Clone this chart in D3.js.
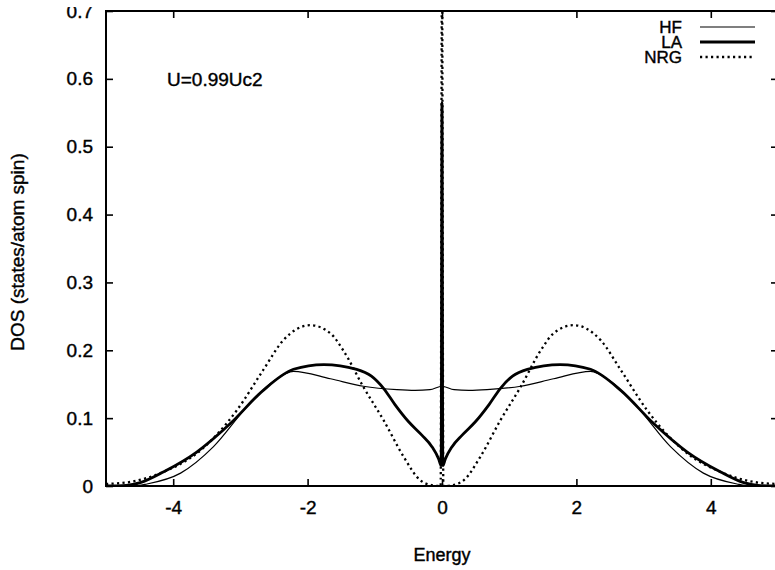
<!DOCTYPE html>
<html>
<head>
<meta charset="utf-8">
<style>
  body { margin: 0; background: #fff; }
  svg text { font-family: "Liberation Sans", Arial, sans-serif; fill: #000; stroke: #000; stroke-width: 0.4px; }
</style>
</head>
<body>
<svg id="chart" width="775" height="570"></svg>
<script src="https://d3js.org/d3.v7.min.js"></script>
<script>
  // tick values
  var xTicks = [-4, -2, 0, 2, 4]
  var yTicks = [0, 0.1, 0.2, 0.3, 0.4, 0.5, 0.6, 0.7]
  var seriesNames = ["HF", "LA", "NRG"]

  // HF (thin line)
  var hfX = [-5, -4.6, -4.39, -3.89, -3.4, -2.9, -2.5, -2.21, -1.66, -1.17, -0.67, -0.4, -0.18, 0, 0.18, 0.4, 0.67, 1.17, 1.66, 2.21, 2.5, 2.9, 3.4, 3.89, 4.39, 4.6, 5]
  var hfY = [0, 0, 0.003, 0.019, 0.058, 0.117, 0.155, 0.169, 0.158, 0.147, 0.142, 0.141, 0.142, 0.147, 0.142, 0.141, 0.142, 0.147, 0.158, 0.169, 0.155, 0.117, 0.058, 0.019, 0.003, 0, 0]
  // LA (thick line)
  var laX = [-5, -4.7, -4.49, -4.14, -3.65, -3.15, -2.66, -2.21, -1.76, -1.27, -1.05, -0.87, -0.7, -0.5, -0.3, -0.15, -0.05, -0.012, 0, 0.012, 0.05, 0.15, 0.3, 0.5, 0.7, 0.87, 1.05, 1.27, 1.76, 2.21, 2.66, 3.15, 3.65, 4.14, 4.49, 4.7, 5]
  var laY = [0, 0.001, 0.005, 0.021, 0.05, 0.092, 0.141, 0.172, 0.179, 0.172, 0.162, 0.144, 0.12, 0.095, 0.075, 0.058, 0.04, 0.03, 0.565, 0.03, 0.04, 0.058, 0.075, 0.095, 0.12, 0.144, 0.162, 0.172, 0.179, 0.172, 0.141, 0.092, 0.05, 0.021, 0.005, 0.001, 0]
  // NRG (dotted line)
  var nrgX = [-5, -4.64, -4.14, -3.65, -3.05, -2.66, -2.36, -1.96, -1.66, -1.47, -1.17, -0.87, -0.57, -0.33, -0.14, -0.02, 0, 0.02, 0.14, 0.33, 0.57, 0.87, 1.17, 1.47, 1.66, 1.96, 2.36, 2.66, 3.05, 3.65, 4.14, 4.64, 5]
  var nrgY = [0.003, 0.006, 0.021, 0.048, 0.112, 0.171, 0.215, 0.237, 0.225, 0.2, 0.146, 0.097, 0.043, 0.009, 0.001, 0, 0.8, 0, 0.001, 0.009, 0.043, 0.097, 0.146, 0.2, 0.225, 0.237, 0.215, 0.171, 0.112, 0.048, 0.021, 0.006, 0.003]

  var svg = d3.select("#chart")
  var plotLeft = 106, plotRight = 778, plotTop = 11, plotBottom = 486

  var x = d3.scaleLinear().domain([-5, 5]).range([plotLeft, plotRight])
  var y = d3.scaleLinear().domain([0, 0.7]).range([plotBottom, plotTop])

  svg.append("clipPath").attr("id", "clip")
    .append("rect").attr("x", plotLeft).attr("y", plotTop).attr("width", plotRight - plotLeft).attr("height", plotBottom - plotTop)

  var styles = {
    HF: { width: 1.2, dash: null },
    LA: { width: 2.8, dash: null },
    NRG: { width: 2.3, dash: "2.2,3.3" }
  }
  var series = [
    { name: "HF", pts: hfX.map((v, i) => [v, hfY[i]]) },
    { name: "LA", pts: laX.map((v, i) => [v, laY[i]]) },
    { name: "NRG", pts: nrgX.map((v, i) => [v, nrgY[i]]) }
  ]

  var line = d3.line()
    .x((d) => x(d[0]))
    .y((d) => y(d[1]))
    .curve(d3.curveMonotoneX)

  var plot = svg.append("g").attr("clip-path", "url(#clip)")
  plot.selectAll("path.series")
    .data(series)
    .enter()
    .append("path")
    .attr("class", "series")
    .attr("d", (d) => line(d.pts))
    .attr("fill", "none")
    .attr("stroke", "#000")
    .attr("stroke-width", (d) => styles[d.name].width)
    .attr("stroke-dasharray", (d) => styles[d.name].dash)
    .attr("stroke-linejoin", "round")

  // axes (ticks inward on all four sides)
  var tickLen = 7
  svg.append("g")
    .attr("transform", "translate(0," + plotBottom + ")")
    .call(d3.axisBottom(x).tickValues(xTicks).tickSize(-tickLen).tickPadding(15).tickFormat((d) => String(d)))
    .call((g) => g.select(".domain").remove())
  svg.append("g")
    .attr("transform", "translate(0," + plotTop + ")")
    .call(d3.axisTop(x).tickValues(xTicks).tickSize(-tickLen).tickFormat(""))
    .call((g) => g.select(".domain").remove())
  svg.append("g")
    .attr("transform", "translate(" + plotLeft + ",0)")
    .call(d3.axisLeft(y).tickValues(yTicks).tickSize(-tickLen).tickPadding(13).tickFormat((d) => d === 0 ? "0" : d3.format(".1f")(d)))
    .call((g) => g.select(".domain").remove())
  svg.append("g")
    .attr("transform", "translate(" + plotRight + ",0)")
    .call(d3.axisRight(y).tickValues(yTicks).tickSize(-tickLen).tickFormat(""))
    .call((g) => g.select(".domain").remove())

  svg.selectAll(".tick line").attr("stroke", "#000").attr("stroke-width", 1.6)
  svg.selectAll(".tick text").style("font-size", "19px").attr("fill", "#000")

  svg.append("rect")
    .attr("x", plotLeft).attr("y", plotTop)
    .attr("width", plotRight - plotLeft).attr("height", plotBottom - plotTop)
    .attr("fill", "none").attr("stroke", "#000").attr("stroke-width", 2)

  // top of the picture is cut off
  svg.append("rect").attr("x", 0).attr("y", 0).attr("width", plotLeft - 2).attr("height", 7).attr("fill", "#fff")

  // axis titles
  svg.append("text")
    .attr("x", 442).attr("y", 561)
    .style("text-anchor", "middle").style("font-size", "18px")
    .text("Energy")
  svg.append("text")
    .attr("transform", "translate(24,252) rotate(-90)")
    .style("text-anchor", "middle").style("font-size", "19px")
    .text("DOS (states/atom spin)")

  svg.append("text")
    .attr("x", 167).attr("y", 86)
    .style("font-size", "19px")
    .text("U=0.99Uc2")

  // legend
  var legend = svg.append("g")
  seriesNames.forEach((name, i) => {
    var ly = 27 + i * 15
    legend.append("text")
      .attr("x", 682).attr("y", ly).attr("dy", "0.36em")
      .style("text-anchor", "end").style("font-size", "17px")
      .text(name)
    legend.append("line")
      .attr("x1", 700).attr("x2", 755).attr("y1", ly).attr("y2", ly)
      .attr("stroke", "#000")
      .attr("stroke-width", styles[name].width)
      .attr("stroke-dasharray", styles[name].dash)
  })
</script>
</body>
</html>
